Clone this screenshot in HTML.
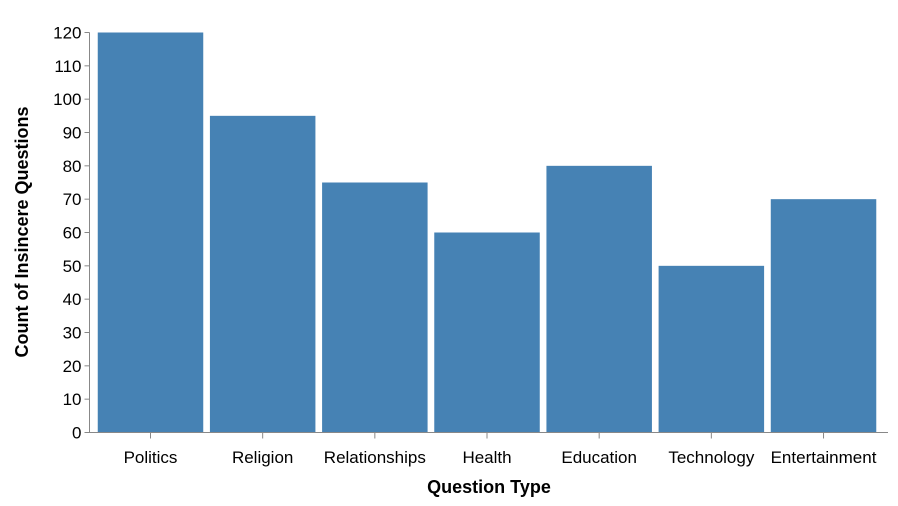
<!DOCTYPE html>
<html><head><meta charset="utf-8"><style>
html,body{margin:0;padding:0;background:#fff;}
svg{display:block;font-family:"Liberation Sans",Arial,sans-serif;}
</style></head><body>
<svg id="chart" width="898" height="506"></svg>
<script>
const categories = ["Politics","Religion","Relationships","Health","Education","Technology","Entertainment"];
const values = [120,95,75,60,80,50,70];
const yTicks = [0,10,20,30,40,50,60,70,80,90,100,110,120];

const NS="http://www.w3.org/2000/svg";
const svg=document.getElementById('chart');
const x0=89.5, y0=432.5, yTop=32.5, yMax=120;
const firstCenter=150.5, step=112.17, barW=105.5;
const yScale=v=>y0-(v/yMax)*(y0-yTop);
const xCenter=i=>firstCenter+i*step;
function mk(tag,attrs,parent){const e=document.createElementNS(NS,tag);for(const k in attrs)e.setAttribute(k,attrs[k]);(parent||svg).appendChild(e);return e;}

const bars=mk('g',{});


categories.forEach((c,i)=>{
  const r=mk('rect',{x:xCenter(i)-barW/2,y:yScale(values[i]),width:barW,height:y0-yScale(values[i]),fill:'#4682b4'},bars);
  
  
});

const ya=mk('g',{});


mk('line',{x1:x0,x2:x0,y1:yTop,y2:y0,stroke:'#888','stroke-width':1},ya);
yTicks.forEach(t=>{
  const y=yScale(t);
  mk('line',{x1:x0-5,x2:x0,y1:y,y2:y,stroke:'#888'},ya);
  const tx=mk('text',{x:x0-8,y:y+6,'text-anchor':'end','font-size':17,fill:'#000'},ya);
  tx.textContent=t;
  
  
});
const yt=mk('text',{transform:'translate(28,232) rotate(-90)','text-anchor':'middle','font-size':18,'font-weight':'bold',fill:'#000'});
yt.textContent='Count of Insincere Questions';



const xa=mk('g',{});


mk('line',{x1:x0,x2:888,y1:y0,y2:y0,stroke:'#888'},xa);
categories.forEach((c,i)=>{
  const x=xCenter(i);
  mk('line',{x1:x,x2:x,y1:y0,y2:y0+6,stroke:'#888'},xa);
  const tx=mk('text',{x:x,y:463,'text-anchor':'middle','font-size':17,fill:'#000'},xa);
  tx.textContent=c;
  
  
});
const xt=mk('text',{x:489,y:493,'text-anchor':'middle','font-size':18,'font-weight':'bold',fill:'#000'});
xt.textContent='Question Type';


</script>
</body></html>
